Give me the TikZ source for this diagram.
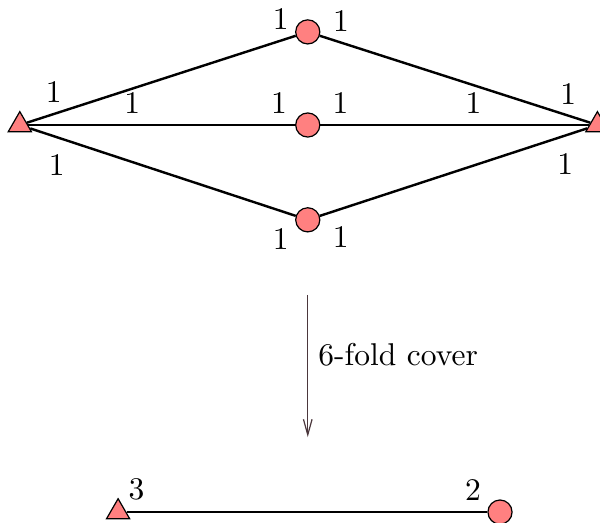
\documentclass[tikz,border=0pt]{standalone}
\definecolor{vfill}{RGB}{255,128,128}
\definecolor{maparrow}{RGB}{75,55,60}
\usepackage{tikz}
\usetikzlibrary{arrows.meta,shapes.geometric}

\begin{document}
\begin{tikzpicture}[font=\fontsize{10.4}{12.5}\selectfont]
        \useasboundingbox (-3.57,-4.61) rectangle (3.39,1.45);
        \tikzset{
          tri/.style={regular polygon, regular polygon sides=3, draw=black, fill=vfill, inner sep=0pt, minimum size=0.31cm},
          dot/.style={circle, draw=black, fill=vfill, inner sep=0pt, minimum size=0.28cm},
          wt/.style={inner sep=3.4pt},
          wtb/.style={inner sep=3.4pt, below, yshift=-2pt},
          edge/.style={thick}
        }
        % cover graph
        \node[tri] (L) at (-3.34,0) {};
        \node[tri] (R) at (3.36,0) {};
        \node[dot] (T) at (0,1.08) {};
        \node[dot] (M) at (0,0) {};
        \node[dot] (B) at (0,-1.10) {};
        \draw[edge] (L) -- node[wt, pos=0.1, above] {1} node[wt, pos=0.944, above] {1} (T);
        \draw[edge] (T) -- node[wt, pos=0.078, above] {1} node[wt, pos=0.918, above] {1} (R);
        \draw[edge] (L) -- node[wt, pos=0.39, above] {1} node[wt, pos=0.94, above] {1} (M);
        \draw[edge] (M) -- node[wt, pos=0.075, above] {1} node[wt, pos=0.57, above] {1} (R);
        \draw[edge] (L) -- node[wtb, pos=0.1] {1} node[wtb, pos=0.944] {1} (B);
        \draw[edge] (B) -- node[wtb, pos=0.078] {1} node[wtb, pos=0.918] {1} (R);
        % covering map
        \coordinate (cov-a) at (0,-1.97);
        \coordinate (cov-b) at (0,-3.62);
        \draw[-{Straight Barb[length=1.8mm,width=1mm]}, maparrow] (cov-a) -- node[pos=0.42, right, text=black] {6-fold cover} (cov-b);
        % base graph
        \node[tri] (BL) at (-2.2,-4.49) {};
        \node[dot] (BR) at (2.23,-4.49) {};
        \draw[edge] (BL) -- node[wt, pos=0.028, above] {3} node[wt, pos=0.96, above] {2} (BR);
      \end{tikzpicture}
\end{document}
